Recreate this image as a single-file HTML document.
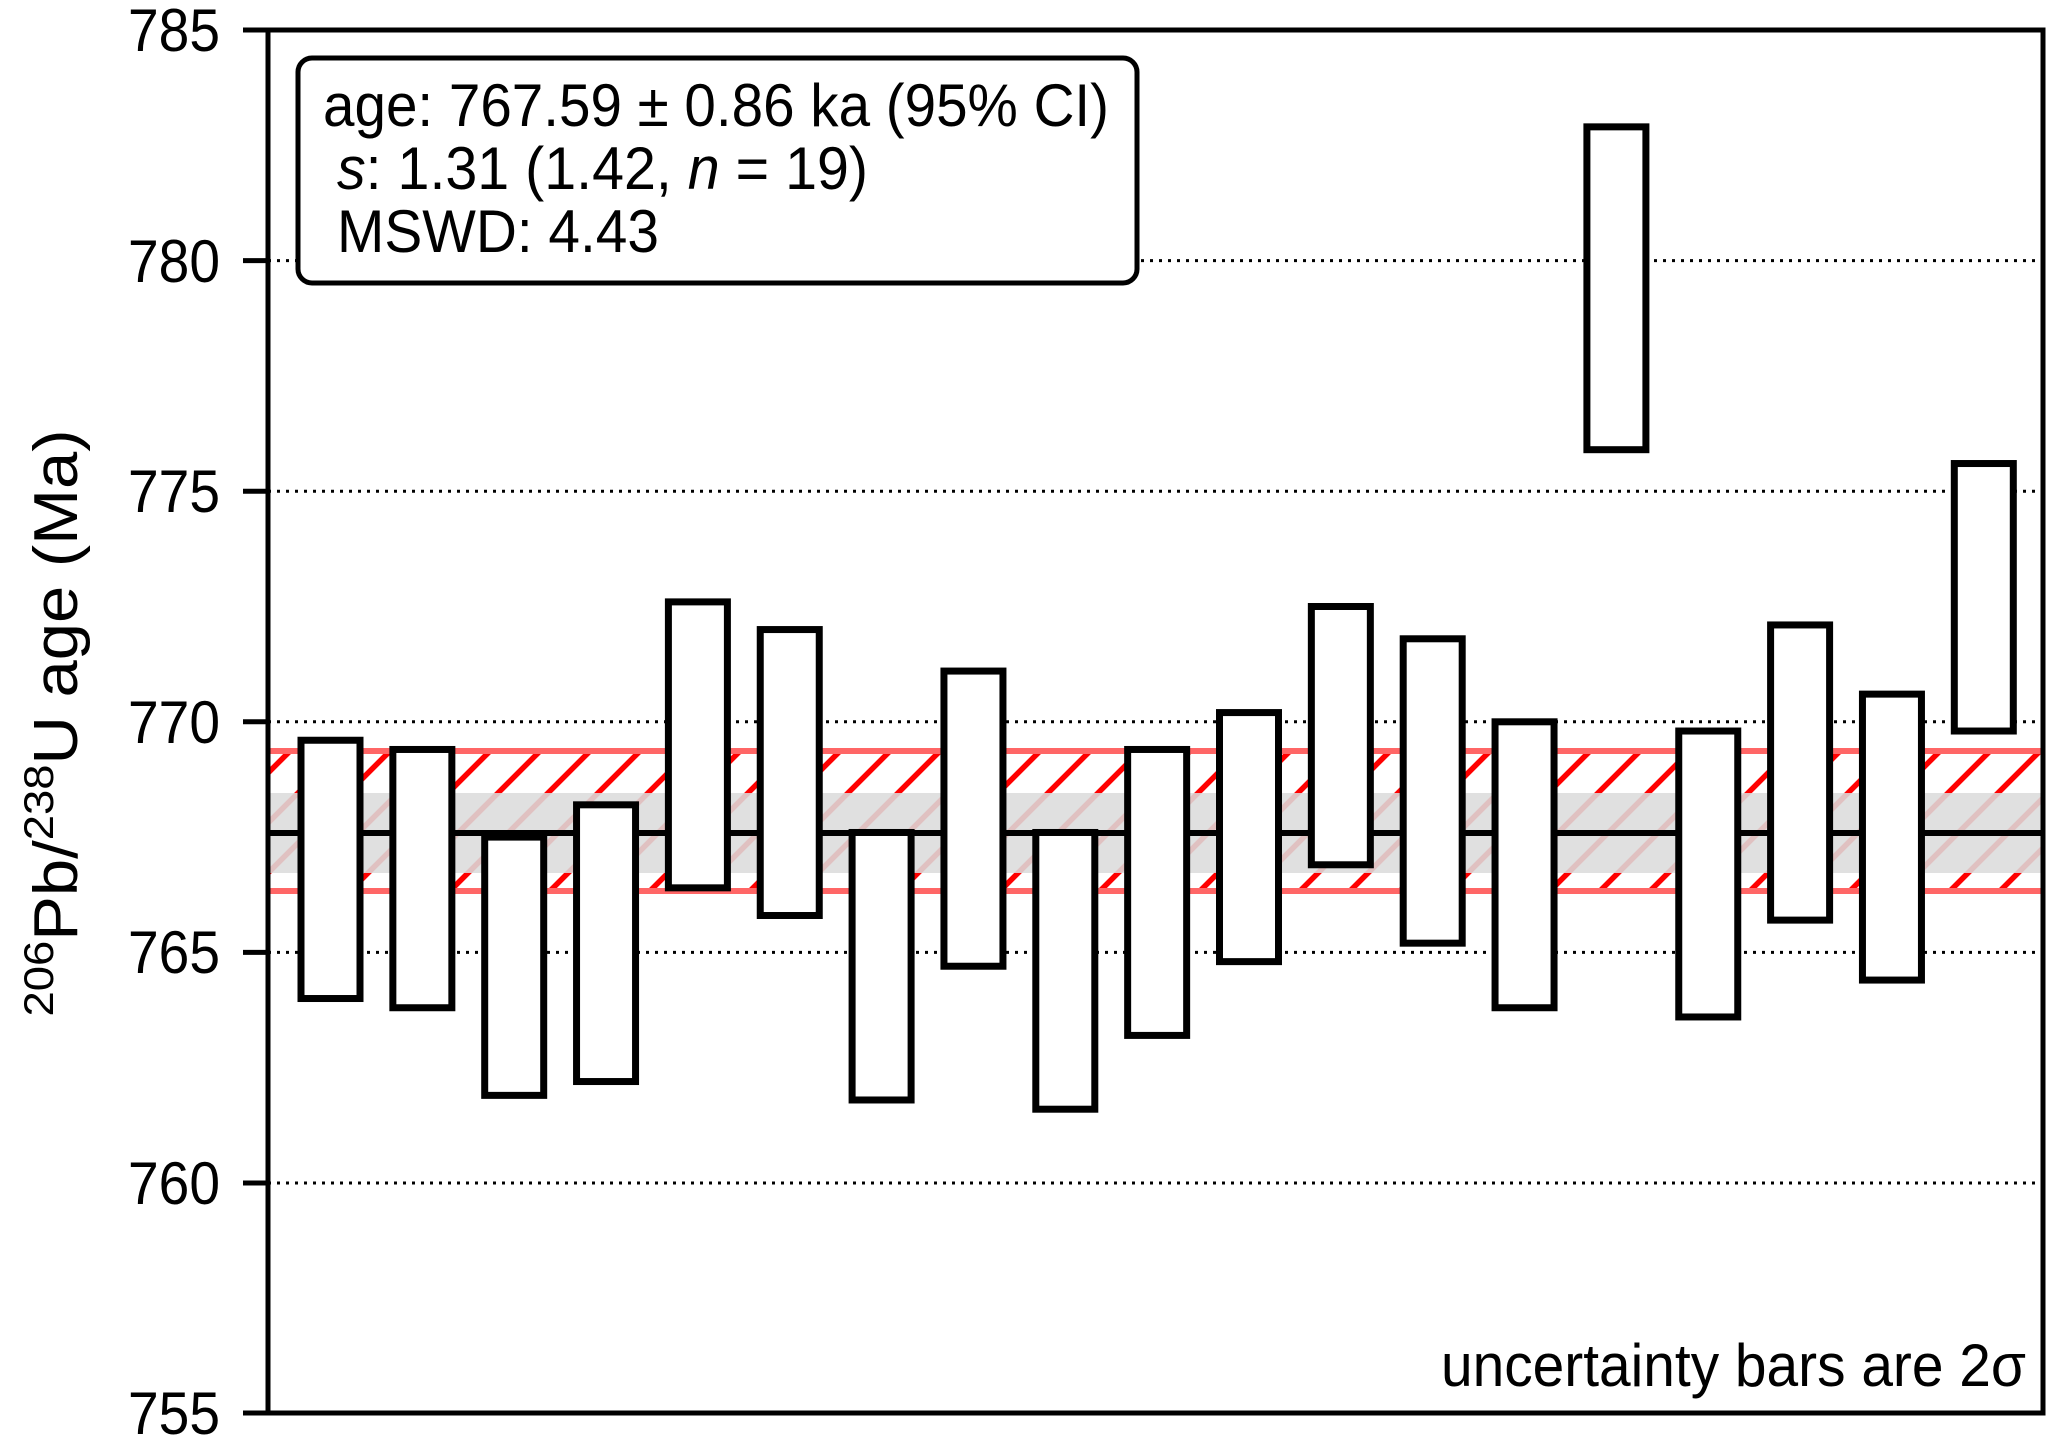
<!DOCTYPE html>
<html><head><meta charset="utf-8"><style>
html,body{margin:0;padding:0;background:#fff;}
svg{display:block;font-family:"Liberation Sans",sans-serif;}
</style></head><body>
<svg width="2067" height="1446" viewBox="0 0 2067 1446" xmlns="http://www.w3.org/2000/svg">
<defs>
<clipPath id="band"><rect x="268" y="751" width="1775" height="140"/></clipPath>
<clipPath id="plot"><rect x="268" y="30" width="1775" height="1383"/></clipPath>
</defs>
<g stroke="#000" stroke-width="3" stroke-dasharray="3,6">
<line x1="268" y1="260.6" x2="2043" y2="260.6"/>
<line x1="268" y1="491.2" x2="2043" y2="491.2"/>
<line x1="268" y1="721.8" x2="2043" y2="721.8"/>
<line x1="268" y1="952.4" x2="2043" y2="952.4"/>
<line x1="268" y1="1183" x2="2043" y2="1183"/>
</g>
<g clip-path="url(#band)" stroke="#ff0000" stroke-width="5.5" id="hatch"></g>
<rect x="268" y="793" width="1775" height="80" fill="#dcdcdc" opacity="0.88"/>
<line x1="268" y1="751" x2="2043" y2="751" stroke="#ff6666" stroke-width="6"/>
<line x1="268" y1="891" x2="2043" y2="891" stroke="#ff6666" stroke-width="6"/>
<line x1="268" y1="833" x2="2043" y2="833" stroke="#000" stroke-width="6"/>
<g id="bars" fill="#fff" stroke="#000" stroke-width="7" clip-path="url(#plot)"></g>
<rect x="268" y="30" width="1775" height="1383" fill="none" stroke="#000" stroke-width="5"/>
<g stroke="#000" stroke-width="5">
<line x1="243" y1="30" x2="268" y2="30"/>
<line x1="243" y1="260.6" x2="268" y2="260.6"/>
<line x1="243" y1="491.2" x2="268" y2="491.2"/>
<line x1="243" y1="721.8" x2="268" y2="721.8"/>
<line x1="243" y1="952.4" x2="268" y2="952.4"/>
<line x1="243" y1="1183" x2="268" y2="1183"/>
<line x1="243" y1="1413" x2="268" y2="1413"/>
</g>
<g font-size="60" text-anchor="end" fill="#000">
<text x="220" y="51" textLength="92" lengthAdjust="spacingAndGlyphs">785</text>
<text x="220" y="282" textLength="92" lengthAdjust="spacingAndGlyphs">780</text>
<text x="220" y="512" textLength="92" lengthAdjust="spacingAndGlyphs">775</text>
<text x="220" y="743" textLength="92" lengthAdjust="spacingAndGlyphs">770</text>
<text x="220" y="973" textLength="92" lengthAdjust="spacingAndGlyphs">765</text>
<text x="220" y="1204" textLength="92" lengthAdjust="spacingAndGlyphs">760</text>
<text x="220" y="1434" textLength="92" lengthAdjust="spacingAndGlyphs">755</text>
</g>
<text transform="translate(77,723) rotate(-90)" text-anchor="middle" font-size="62" fill="#000" textLength="587" lengthAdjust="spacingAndGlyphs"><tspan font-size="42" dy="-24">206</tspan><tspan dy="24">Pb/</tspan><tspan font-size="42" dy="-24">238</tspan><tspan dy="24">U age (Ma)</tspan></text>
<rect x="298" y="58" width="839" height="225" rx="14" fill="#fff" stroke="#000" stroke-width="5"/>
<g font-size="60" fill="#000">
<text x="323" y="126" textLength="786" lengthAdjust="spacingAndGlyphs">age: 767.59 ± 0.86 ka (95% CI)</text>
<text x="337" y="189" textLength="531" lengthAdjust="spacingAndGlyphs"><tspan font-style="italic">s</tspan>: 1.31 (1.42, <tspan font-style="italic">n</tspan> = 19)</text>
<text x="337" y="252" textLength="322" lengthAdjust="spacingAndGlyphs">MSWD: 4.43</text>
<text x="2026" y="1386" text-anchor="end" textLength="585" lengthAdjust="spacingAndGlyphs">uncertainty bars are 2σ</text>
</g>
</svg>
<script>
(function(){
var ns="http://www.w3.org/2000/svg";
var h=document.getElementById("hatch");
for(var x=100;x<2200;x+=50){var l=document.createElementNS(ns,"line");
l.setAttribute("x1",x);l.setAttribute("y1",891);l.setAttribute("x2",x+140);l.setAttribute("y2",751);h.appendChild(l);}
var d=[[769.6,764.0],[769.4,763.8],[767.5,761.9],[768.2,762.2],[772.6,766.4],[772.0,765.8],[767.6,761.8],[771.1,764.7],[767.6,761.6],[769.4,763.2],[770.2,764.8],[772.5,766.9],[771.8,765.2],[770.0,763.8],[782.9,775.9],[769.8,763.6],[772.1,765.7],[770.6,764.4],[775.6,769.8]];
var g=document.getElementById("bars");
function Y(v){return 30+(785-v)*46.12;}
for(var i=0;i<d.length;i++){var r=document.createElementNS(ns,"rect");
var x=301+i*91.85;r.setAttribute("x",x);r.setAttribute("width",59);
r.setAttribute("y",Y(d[i][0]));r.setAttribute("height",Y(d[i][1])-Y(d[i][0]));g.appendChild(r);}
})();
</script>
</body></html>
